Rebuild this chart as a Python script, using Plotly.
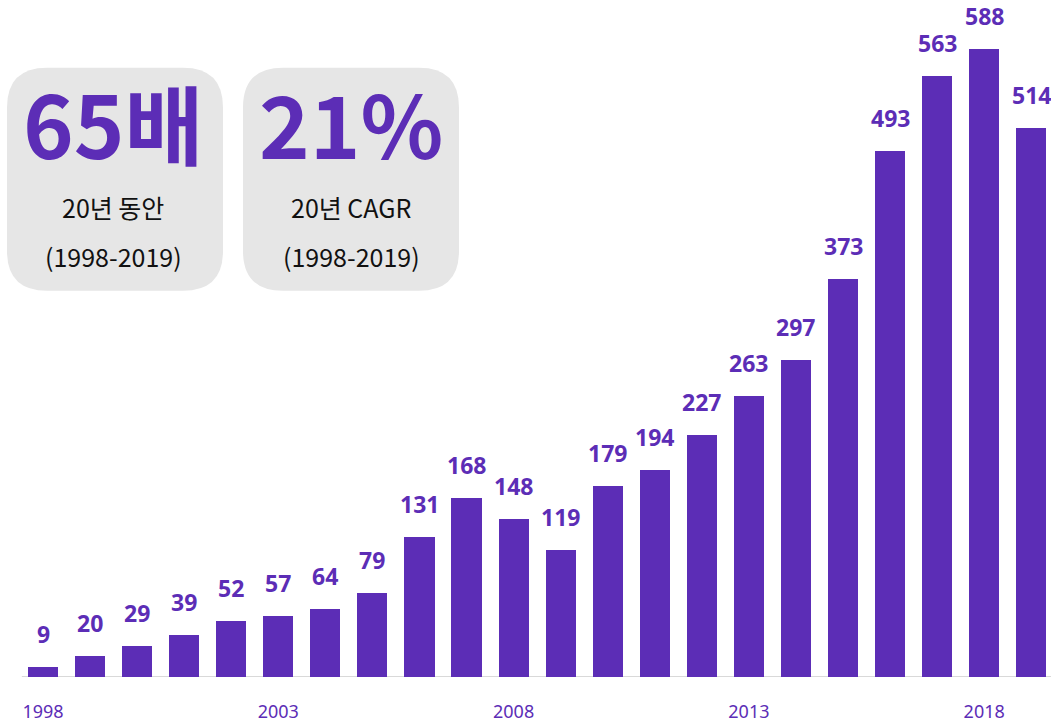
import plotly.graph_objects as go

# data
years = list(range(1998, 2020))
values = [9, 20, 29, 39, 52, 57, 64, 79, 131, 168, 148, 119, 179, 194, 227, 263, 297, 373, 493, 563, 588, 514]
tick_years = [1998, 2003, 2008, 2013, 2018]
tick_labels = [str(y) for y in tick_years]

PURPLE = "#5c2db6"
W, H = 1051, 723
M_T, M_B = 15, 43


def px_x(x):
    return x / W


def px_y(y):
    return (H - M_B - y) / (H - M_T - M_B)


def rounded_box(x0, y0, x1, y1, r):
    # rounded rectangle in paper coords, from pixel corners
    pts = lambda x, y: f"{px_x(x):.5f},{px_y(y):.5f}"
    return (f"M {pts(x0 + r, y0)} L {pts(x1 - r, y0)} Q {pts(x1, y0)} {pts(x1, y0 + r)} "
            f"L {pts(x1, y1 - r)} Q {pts(x1, y1)} {pts(x1 - r, y1)} "
            f"L {pts(x0 + r, y1)} Q {pts(x0, y1)} {pts(x0, y1 - r)} "
            f"L {pts(x0, y0 + r)} Q {pts(x0, y0)} {pts(x0 + r, y0)} Z")


fig = go.Figure()

fig.add_trace(go.Bar(
    x=years,
    y=values,
    width=0.64,
    marker=dict(color=PURPLE, line=dict(width=0)),
    cliponaxis=False,
    hoverinfo="x+y",
))

shapes = [
    dict(type="line", xref="x", yref="y", x0=1997.55, x1=2019.6, y0=0, y1=0,
         line=dict(color="#d9d9d9", width=2), layer="below"),
    dict(type="path", xref="paper", yref="paper", path=rounded_box(7, 68, 223, 292, 40),
         fillcolor="#e6e6e6", line=dict(width=0), layer="below"),
    dict(type="path", xref="paper", yref="paper", path=rounded_box(243, 68, 459, 292, 40),
         fillcolor="#e6e6e6", line=dict(width=0), layer="below"),
]

# value labels sit well above each bar
annotations = [
    dict(x=yr, y=v, xref="x", yref="y", text=str(v), showarrow=False,
         xanchor="center", yanchor="bottom", yshift=15,
         font=dict(family="Noto Sans", size=23, color=PURPLE, weight="bold"))
    for yr, v in zip(years, values)
]

big_font = dict(family="Noto Sans CJK KR", size=86, color=PURPLE, weight="bold")
sub_font = dict(family="Noto Sans CJK KR", size=25, color="#111111")
for cx, big, sub in [(113, "65배", "20년 동안"), (351, "21%", "20년 CAGR")]:
    annotations.append(dict(x=px_x(cx), y=px_y(122), xref="paper", yref="paper", text=big,
                            showarrow=False, font=big_font, xanchor="center", yanchor="middle"))
    annotations.append(dict(x=px_x(cx), y=px_y(208), xref="paper", yref="paper", text=sub,
                            showarrow=False, font=sub_font, xanchor="center", yanchor="middle"))
    annotations.append(dict(x=px_x(cx), y=px_y(257), xref="paper", yref="paper", text="(1998-2019)",
                            showarrow=False, font=sub_font, xanchor="center", yanchor="middle"))

fig.update_layout(
    width=W,
    height=H,
    template="plotly_white",
    plot_bgcolor="white",
    paper_bgcolor="white",
    margin=dict(l=0, r=0, t=M_T, b=M_B),
    showlegend=False,
    bargap=0,
    shapes=shapes,
    annotations=annotations,
    xaxis=dict(
        range=[1997.086, 2019.42],
        tickvals=tick_years,
        ticktext=tick_labels,
        tickfont=dict(family="Noto Sans", size=18, color=PURPLE),
        ticks="outside", ticklen=18, tickcolor="rgba(0,0,0,0)",
        showgrid=False, zeroline=False, showline=False,
    ),
    yaxis=dict(range=[0, 620], visible=False, showgrid=False, zeroline=False),
)

# page body has a default 8px margin; drop it so the figure fills the window
fig.write_html("out.html", config={"displayModeBar": False},
               post_script="document.body.style.margin='0px';")
